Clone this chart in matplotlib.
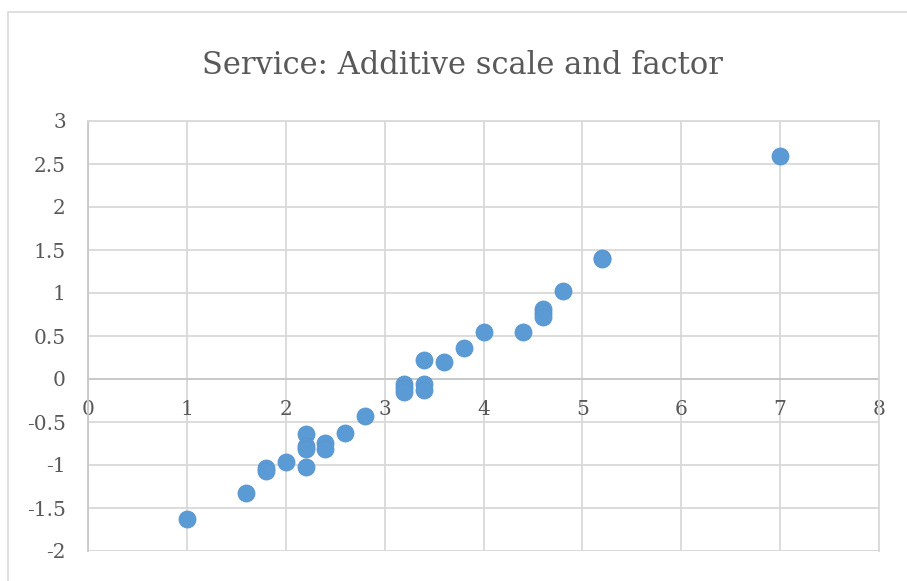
import matplotlib
matplotlib.use("Agg")
import matplotlib.pyplot as plt
from matplotlib.patches import Rectangle

# values
x_vals = [1.0, 1.6, 1.8, 1.8, 2.0, 2.2, 2.2, 2.2, 2.2, 2.4, 2.4, 2.6, 2.8,
          3.2, 3.2, 3.2, 3.4, 3.4, 3.4, 3.6, 3.8, 4.0, 4.4, 4.6, 4.6, 4.6,
          4.8, 5.2, 5.2, 7.0]
y_vals = [-1.63, -1.33, -1.03, -1.07, -0.96, -0.64, -0.78, -0.81, -1.02,
          -0.74, -0.81, -0.63, -0.43, -0.06, -0.10, -0.15, -0.06, -0.13,
          0.22, 0.20, 0.36, 0.55, 0.55, 0.81, 0.77, 0.72, 1.02, 1.41, 1.39,
          2.59]
x_ticks = [0, 1, 2, 3, 4, 5, 6, 7, 8]
y_ticks = [-2, -1.5, -1, -0.5, 0, 0.5, 1, 1.5, 2, 2.5, 3]
y_labels = ["-2", "-1.5", "-1", "-0.5", "0", "0.5", "1", "1.5", "2", "2.5", "3"]
title = "Service: Additive scale and factor"

W, H = 907, 581
plt.rcParams["font.family"] = ["DejaVu Serif"]
text_color = "#595959"
grid_color = "#D9D9D9"

fig = plt.figure(figsize=(W / 100, H / 100), dpi=100)

# chart frame (cut off at right and bottom like the screenshot)
fig.patches.append(Rectangle((8 / W, -0.1), 1.2, 1 - 12 / H + 0.1,
                             transform=fig.transFigure, fill=False,
                             edgecolor="#D9D9D9", linewidth=1.2))

ax = fig.add_axes([88 / W, (H - 551) / H, (879 - 88) / W, (551 - 121) / H])
ax.set_xlim(0, 8)
ax.set_ylim(-2, 3)

ax.scatter(x_vals, y_vals, s=150, color="#5B9BD5", edgecolors="#5A94CC",
           linewidths=0.6, zorder=3)

ax.set_xticks(x_ticks)
ax.set_xticklabels([str(t) for t in x_ticks])
ax.set_yticks(y_ticks)
ax.set_yticklabels(y_labels)
ax.grid(True, color=grid_color, linewidth=1.3)
ax.set_axisbelow(True)

for side in ["top", "right"]:
    ax.spines[side].set_color(grid_color)
    ax.spines[side].set_linewidth(1.3)
ax.spines["bottom"].set_position(("data", 0))
ax.spines["bottom"].set_color("#C8C8C8")
ax.spines["bottom"].set_linewidth(1.3)
ax.spines["left"].set_color("#C8C8C8")
ax.spines["left"].set_linewidth(1.3)
ax.spines["bottom"].set_zorder(1)

# frame line for the plot bottom, since bottom spine moved to y=0
ax.axhline(-2, color=grid_color, linewidth=1.3, zorder=0)

ax.tick_params(axis="both", length=0, labelsize=14.5, colors=text_color)
ax.tick_params(axis="x", pad=15)
ax.tick_params(axis="y", pad=16)

fig.text(0.51, 1 - 66 / H, title, ha="center", va="center",
         fontsize=22, color=text_color)

fig.savefig("out.png", dpi=100)
